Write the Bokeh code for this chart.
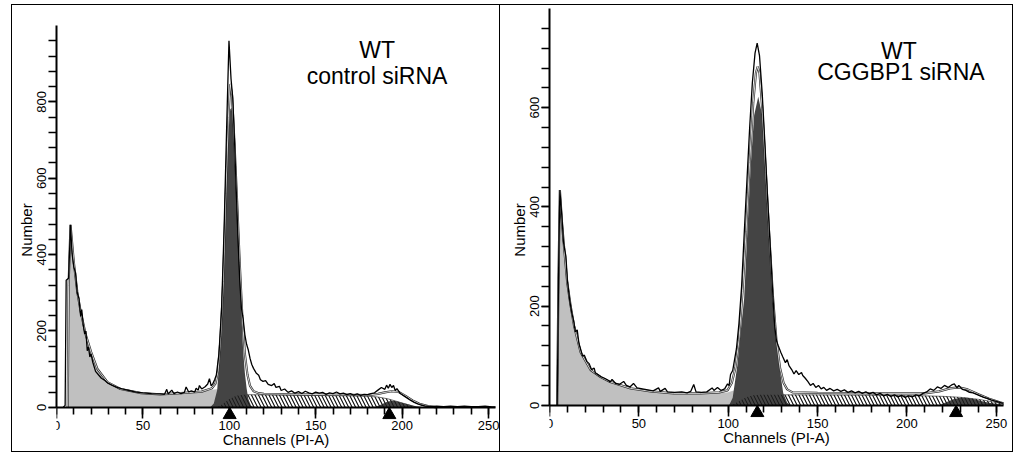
from bokeh.plotting import figure
from bokeh.layouts import row
from bokeh.models import FixedTicker, Label, Range1d
from bokeh.embed import file_html
from bokeh.resources import INLINE

# ---- data (channel, count) ----
x_ticks = [0, 50, 100, 150, 200, 250]
x_minor = list(range(0, 251, 10))

# WT / control siRNA
L_yticks = [0, 200, 400, 600, 800]
L_yminor = list(range(0, 961, 40))
L_raw = [(3.9, 0), (5.0, 5), (5.6, 333), (7.0, 338), (8.1, 478), (9.0, 403), (10, 368), (11, 352),
         (12, 300), (13, 285), (14, 238), (14.6, 256), (15.5, 215), (16.3, 192), (17.0, 200),
         (17.8, 148), (18.5, 158), (19.3, 132), (20, 140), (21, 118), (22.6, 94), (24.5, 84),
         (26, 76), (28, 70), (29.5, 64), (32, 58), (35, 52), (38, 48), (42, 44), (46, 40),
         (50, 38), (55, 36), (60, 35), (62.5, 34), (63.8, 47), (64.6, 35), (66.7, 45), (68, 36),
         (70, 40), (72, 36), (74, 39), (75, 53), (76.5, 40), (78, 43), (80, 40), (80.8, 50),
         (82, 45), (82.7, 57), (84, 48), (86, 54), (87.5, 61), (88.5, 75), (89.5, 56), (90.5, 62),
         (91.5, 72), (92.5, 85), (94, 140), (95.5, 255), (97, 470), (98.5, 740), (99.8, 960),
         (101, 860), (102, 810), (103, 700), (104, 570), (105, 445), (106, 335), (107, 260),
         (108, 232), (109, 190), (110, 165), (111, 150), (112, 128), (113, 112), (114, 102),
         (115.5, 90), (117, 84), (118, 72), (119.5, 68), (121, 70), (122.5, 60), (124.5, 57),
         (126, 62), (127, 52), (129, 55), (130, 44), (132, 48), (134, 39), (136, 43), (138, 37),
         (140, 41), (142, 36), (144, 42), (146, 38), (148, 35), (150, 40), (152, 37), (154, 39),
         (156, 34), (158, 38), (160, 36), (162, 40), (164, 35), (166, 37), (168, 33), (170, 36),
         (172, 32), (174, 35), (176, 31), (178, 34), (180, 33), (182, 36), (184, 38), (186, 45),
         (188, 52), (190, 47), (191, 58), (192, 50), (193, 60), (194, 52), (195, 57), (196, 44),
         (197, 49), (199, 36), (201, 30), (203, 24), (205, 18), (207, 13), (209, 9), (211, 6),
         (213, 4), (216, 2), (220, 3), (224, 2), (228, 3), (232, 2), (236, 3), (240, 2),
         (244, 2), (248, 3), (252, 1), (254, 1)]
L_fit = [(6.5, 0), (7, 320), (8.1, 478), (10, 381), (12, 303), (14, 250), (17, 189), (20, 145),
         (23.6, 101), (29.5, 66), (37, 48), (49, 37), (60, 34), (72, 37), (84, 41), (90, 50),
         (92, 62), (93.5, 95), (95, 185), (96.5, 330), (98, 560), (99.5, 760), (100.5, 847),
         (101.5, 820), (103, 690), (104.5, 540), (106, 380), (107.5, 240), (109, 140),
         (110.5, 85), (112, 56), (114, 42), (117, 37), (120, 35), (140, 34), (160, 33),
         (180, 32), (186, 35), (190, 39), (194, 42), (198, 40), (202, 30), (206, 18),
         (210, 9), (215, 3), (220, 0)]
L_debris = [(6.5, 0), (7, 320), (8.1, 478), (10, 381), (12, 303), (14, 250), (17, 189), (20, 145),
            (23.6, 101), (29.5, 66), (37, 48), (49, 37), (60, 34), (72, 37), (84, 41), (90, 46),
            (94, 48), (97, 20), (99, 0)]
L_g1 = [(89, 0), (91, 10), (93, 45), (95, 170), (96.5, 300), (97.5, 470), (98.5, 610), (99.5, 720),
        (100.5, 780), (101.2, 785), (102, 765), (103, 690), (104, 580), (105, 460), (106, 340),
        (107, 240), (108, 150), (109, 90), (110, 50), (111, 22), (112.5, 5), (114, 0)]
L_s = [(93, 0), (96, 8), (100, 22), (104, 30), (108, 33), (112, 33), (130, 32), (150, 31),
       (170, 30), (180, 29), (186, 27), (192, 22), (198, 14), (204, 6), (208, 0)]
L_g2 = [(184, 0), (188, 7), (191, 14), (194, 17), (197, 16), (200, 12), (204, 7), (208, 3), (213, 0)]
L_peaks = [100.2, 192.6]

# WT / CGGBP1 siRNA
R_yticks = [0, 200, 400, 600]
R_yminor = list(range(0, 761, 40))
R_raw = [(4.3, 0), (5.2, 300), (5.8, 434), (6.5, 400), (7.1, 372), (7.8, 330), (8.6, 312), (9.2, 300),
         (10, 252), (11.3, 212), (12.5, 186), (13.5, 170), (14.5, 148), (15.5, 152), (16.5, 124),
         (17.5, 112), (18.5, 99), (19.5, 101), (21, 88), (22.2, 84), (23.5, 72), (25, 75),
         (25.7, 65), (27, 62), (29, 57), (31, 54), (33, 50), (34, 47), (35, 52), (37, 44), (39, 42),
         (41.5, 48), (43, 40), (45, 37), (47, 44), (49, 35), (52, 33), (55, 31), (58, 29), (61, 35),
         (62, 28), (64.7, 34), (66, 27), (70, 26), (74, 27), (77, 25), (79, 28), (80.7, 42),
         (82, 27), (85, 26), (88, 27), (91, 35), (92, 30), (94, 36), (96, 30), (98, 33),
         (99.6, 43), (100.5, 40), (101.3, 62), (102.5, 70), (104.6, 114), (106, 165), (107.5, 240),
         (109, 350), (110.5, 455), (112, 560), (113.5, 650), (115, 710), (116.2, 730),
         (117.5, 705), (119, 630), (120.5, 530), (122, 420), (123.5, 320), (125, 220), (126, 160),
         (127, 130), (128, 120), (129.4, 107), (130.5, 98), (132, 86), (133, 92), (134, 80),
         (135.5, 72), (136.8, 63), (138, 70), (139.5, 62), (141, 66), (141.7, 60), (143, 55),
         (144.5, 48), (146, 40), (147.5, 44), (149, 36), (150.5, 40), (152, 33), (153.5, 36),
         (155, 30), (157, 34), (159, 29), (161, 32), (163, 28), (165, 31), (167, 26), (169, 29),
         (171, 25), (173, 28), (175, 24), (177, 27), (179, 23), (181, 26), (183, 21), (185, 24),
         (187, 19), (189, 22), (191, 18), (193, 21), (195, 17), (197, 20), (199, 16), (201, 19),
         (203, 17), (205, 21), (207, 19), (209, 24), (211, 27), (213, 33), (215, 30), (217, 37),
         (219, 34), (221, 40), (223, 36), (225, 41), (226.5, 43), (228, 35), (229, 40), (231, 32),
         (233, 30), (235, 26), (237, 25), (239, 22), (241, 19), (243, 16), (245, 14), (247, 11),
         (249, 9), (251, 7), (253, 5), (254, 4)]
R_fit = [(4.3, 0), (5.0, 250), (5.8, 434), (7.1, 363), (8.4, 309), (9.9, 248), (11.8, 201),
         (13.7, 161), (17.4, 107), (23, 71), (28.6, 57), (34, 47), (45.4, 34), (56.6, 28),
         (69.5, 24), (84.6, 24), (95, 26), (99.6, 30), (102, 45), (104, 75), (106, 130), (108, 230),
         (110, 350), (112, 490), (114, 610), (115.5, 670), (116.5, 683), (117.5, 670), (119, 600),
         (121, 470), (123, 340), (125, 220), (127, 130), (129, 75), (131, 45), (133, 32),
         (136, 26), (150, 25), (180, 24), (210, 24), (218, 28), (224, 34), (229, 36), (234, 32),
         (240, 22), (246, 13), (252, 6), (254, 4)]
R_debris = [(4.3, 0), (5.0, 250), (5.8, 434), (7.1, 363), (8.4, 309), (9.9, 248), (11.8, 201),
            (13.7, 161), (17.4, 107), (23, 71), (28.6, 57), (34, 47), (45.4, 34), (56.6, 28),
            (69.5, 24), (84.6, 24), (99.6, 26), (103, 30), (105, 20), (108, 0)]
R_g1 = [(100.5, 0), (102.5, 15), (105.1, 80), (107, 150), (108.9, 215), (110.7, 350), (112.6, 484),
        (114.5, 585), (116.8, 622), (119, 585), (121, 484), (122.9, 350), (124.7, 230),
        (126.5, 140), (128.5, 80), (130.8, 24), (133, 5), (135, 0)]
R_s = [(102, 0), (106, 8), (110, 16), (114, 20), (118, 21), (130, 21), (150, 21), (180, 20),
       (210, 19), (220, 18), (230, 16), (240, 12), (248, 7), (254, 3)]
R_g2 = [(218, 0), (222, 6), (226, 12), (230, 15), (234, 15), (238, 12), (242, 8), (246, 5),
        (250, 3), (254, 1)]
R_peaks = [116.3, 227.5]

LIGHT = "#c0c0c0"
DARK = "#444444"
FONT = "Liberation Sans"


def xy(pts):
    return [a for a, b in pts], [b for a, b in pts]


def panel(raw, fit, debris, g1, g2, s, peaks, xtop, yrange, ytop, yticks, yminor, lines, label_pos,
          width, height, borders, margin, style):
    # frame reaches below zero so the peak markers and the x axis (drawn at y=0) fit inside;
    # both panels share the same top/bottom borders (a row aligns the frames)
    ylo, yhi = yrange
    p = figure(width=width, height=height, x_range=Range1d(0, xtop), y_range=Range1d(ylo, yhi),
               title=None, output_backend="svg", toolbar_location=None,
               background_fill_color="white", border_fill_color="white",
               margin=margin, styles=style)
    p.min_border_left, p.min_border_right, p.min_border_top, p.min_border_bottom = borders
    p.outline_line_color = None
    p.grid.visible = False

    # model components
    x, y = xy(debris)
    p.varea(x=x, y1=0, y2=y, fill_color=LIGHT)
    x, y = xy(s)
    p.varea(x=x, y1=0, y2=y, fill_color="white", hatch_pattern="\\", hatch_color="#222222",
            hatch_scale=7, hatch_weight=1)
    p.line(x=x, y=y, line_color="#555555", line_width=0.8)
    x, y = xy(g1)
    p.varea(x=x, y1=0, y2=y, fill_color=DARK)
    x, y = xy(g2)
    p.varea(x=x, y1=0, y2=y, fill_color=DARK)
    x, y = xy(s)
    p.varea(x=x, y1=0, y2=y, fill_alpha=0, hatch_pattern="\\", hatch_color="#000000",
            hatch_scale=7, hatch_weight=1, hatch_alpha=0.7)

    # fitted sum (white line with dark edges) and raw data
    x, y = xy(fit)
    p.line(x=x, y=y, line_color="#2a2a2a", line_width=2.2)
    p.line(x=x, y=y, line_color="white", line_width=0.8)
    x, y = xy(raw)
    p.line(x=x, y=y, line_color="black", line_width=1.3)

    # G1 / G2 position markers, apex on the axis line (marker centre 7.5 px below it)
    frame_h = height - 2 - borders[2] - borders[3]
    tri_y = -7.5 * (yhi - ylo) / frame_h
    p.scatter(x=peaks, y=[tri_y] * len(peaks), marker="triangle", size=13,
              fill_color="black", line_color="black")

    for (lx, ly), txt in zip(label_pos, lines):
        p.add_layout(Label(x=lx, y=ly, text=txt, text_font=FONT, text_font_size="23px",
                           text_align="center", text_baseline="alphabetic", text_color="black"))

    p.xaxis.ticker = FixedTicker(ticks=x_ticks, minor_ticks=x_minor)
    p.yaxis.ticker = FixedTicker(ticks=yticks, minor_ticks=yminor)
    p.xaxis.fixed_location = 0
    p.xaxis.bounds = (0, 254)
    p.yaxis.bounds = (0, ytop)
    p.xaxis.axis_label = "Channels (PI-A)"
    p.yaxis.axis_label = "Number"
    for ax in (p.xaxis, p.yaxis):
        ax.axis_line_width = 2
        ax.axis_line_color = "black"
        ax.major_tick_line_width = 1.6
        ax.minor_tick_line_width = 1.6
        ax.major_tick_line_color = "black"
        ax.minor_tick_line_color = "black"
        ax.major_tick_in = 0
        ax.minor_tick_in = 0
        ax.major_label_text_font = FONT
        ax.major_label_text_font_size = "13px"
        ax.major_label_text_color = "black"
        ax.axis_label_text_font = FONT
        ax.axis_label_text_font_size = "15px"
        ax.axis_label_text_font_style = "normal"
        ax.axis_label_text_color = "black"
        ax.axis_label_standoff = 0
    p.xaxis.axis_label_standoff = -3
    p.xaxis.major_tick_out = 11
    p.xaxis.minor_tick_out = 7
    p.xaxis.major_label_standoff = 3
    p.yaxis.major_tick_out = 8
    p.yaxis.minor_tick_out = 8
    p.yaxis.major_label_standoff = 2
    p.yaxis.major_label_orientation = "vertical"
    return p


p1 = panel(L_raw, L_fit, L_debris, L_g1, L_g2, L_s, L_peaks, 257.5, (-115.8, 1044.7), 1000,
           L_yticks, L_yminor, ["WT", "control siRNA"], [(185.5, 935), (185.5, 869)],
           489, 448, (44, 0, 3, 2), (4, 0, 0, 11),
           {"border-left": "1px solid black", "border-top": "1px solid black",
            "border-bottom": "1px solid black", "border-right": "1px solid black"})
p2 = panel(R_raw, R_fit, R_debris, R_g1, R_g2, R_s, R_peaks, 258.5, (-93.2, 800), 800,
           R_yticks, R_yminor, ["WT", "CGGBP1 siRNA"], [(195.5, 714), (196.6, 672)],
           513, 448, (49, 2, 3, 2), (4, 0, 0, 0),
           {"border-top": "1px solid black", "border-right": "1px solid black",
            "border-bottom": "1px solid black"})

layout = row(p1, p2)
open("out.html", "w").write(file_html(layout, INLINE))
